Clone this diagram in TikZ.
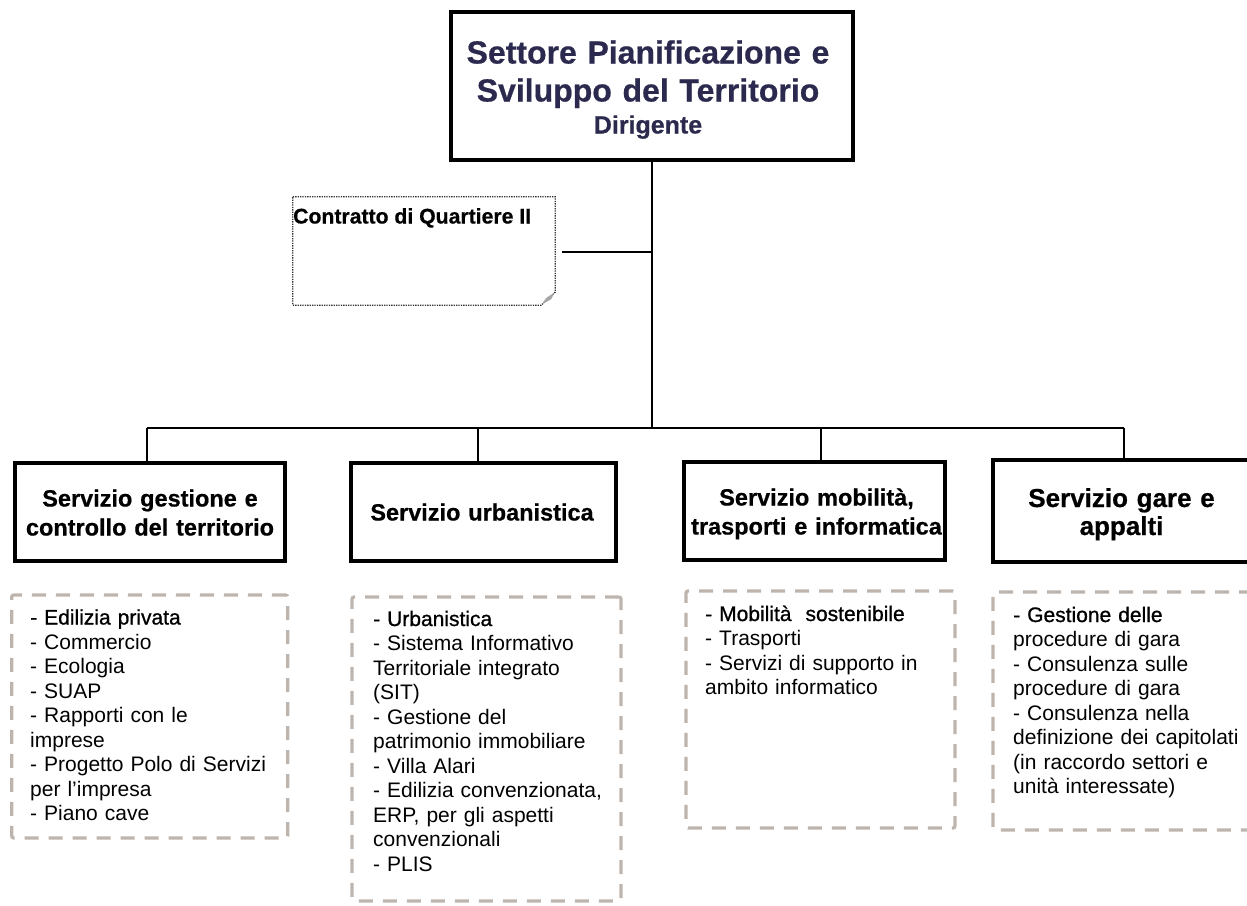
\documentclass[tikz,border=0pt]{standalone}
\usepackage{fontspec}
\setmainfont{Liberation Sans}[BoldFeatures={FakeBold=0.6}]
\newfontfamily\firstline{Liberation Sans}[FakeBold=0.9]
\definecolor{navy}{HTML}{2B2A4E}
\definecolor{dashgray}{HTML}{BDB5AD}
\definecolor{dotgray}{HTML}{333333}
\begin{document}
\begin{tikzpicture}[x=1pt,y=-1pt,
  boxframe/.style={draw=black, line width=4.5pt, inner sep=0pt},
  toptext/.style={anchor=base, text width=400pt, align=center, inner sep=0pt, text=navy,
    font=\bfseries\fontsize{32}{38}\selectfont},
  svctext/.style={anchor=base, text width=260pt, align=center, inner sep=0pt,
    font=\bfseries\fontsize{23.5}{29}\selectfont},
  conn/.style={draw=black, line width=2pt},
  dbox/.style={draw=dashgray, line width=3.2pt, dash pattern=on 14pt off 10pt, rounded corners=2pt, inner sep=0pt},
  dtext/.style={anchor=base west, text width=265pt, align=left, inner sep=0pt,
    font=\fontsize{21}{24.5}\selectfont},
  dotbox/.style={draw=dotgray, line width=1.3pt, dash pattern=on 1.3pt off 1.1pt},
]
\useasboundingbox (0,0) rectangle (1247,905);

% top box
\node[boxframe, minimum width=402pt, minimum height=148pt] (top) at (652,86) {};
\node[toptext] (topt) at (648,63.5)
  {Settore Pianificazione e\\Sviluppo del Territorio\\[-6pt]{\fontsize{25}{30}\selectfont Dirigente}};

% Contratto di Quartiere II
\node[minimum width=262pt, minimum height=108pt, inner sep=0pt] (cq) at (424,251) {};
\draw[dotbox] (cq.north west) -- (cq.north east) -- ([yshift=13pt]cq.south east)
  -- ([xshift=-14pt]cq.south east) -- (cq.south west) -- cycle;
\fill[gray!70] ([xshift=-13pt,yshift=1pt]cq.south east) .. controls ([xshift=-9pt,yshift=8pt]cq.south east) .. ([xshift=-1pt,yshift=12pt]cq.south east)
  -- ([xshift=-4pt,yshift=6pt]cq.south east) .. controls ([xshift=-8pt,yshift=4pt]cq.south east) .. cycle;
\node[anchor=base west, inner sep=0pt, font=\bfseries\fontsize{21.2}{24}\selectfont] (cqt) at (293,223.5) {Contratto di Quartiere II};
\coordinate (cqe) at (562,252);
\draw[conn] (cqe) -- (cqe -| top.south);

% service boxes
\node[boxframe, minimum width=270pt, minimum height=98pt] (s1) at (150,512) {};
\node[boxframe, minimum width=265pt, minimum height=98pt] (s2) at (483.5,512) {};
\node[boxframe, minimum width=261pt, minimum height=98pt] (s3) at (814.5,511) {};
\node[boxframe, minimum width=257pt, minimum height=102pt] (s4) at (1121.5,511) {};
\node[svctext] (s1t) at (150,506.5) {Servizio gestione e\\controllo del territorio};
\node[svctext] (s2t) at (482,520.5) {Servizio urbanistica};
\node[svctext] (s3t) at (816.5,505.5) {Servizio mobilità,\\trasporti e informatica};
\node[svctext, font=\bfseries\fontsize{26}{28}\selectfont] (s4t) at (1121.5,507) {Servizio gare e\\appalti};

% connectors
\coordinate (bus) at (652,428);
\coordinate (d1) at (147,428);
\coordinate (d2) at (478,428);
\coordinate (d3) at (821,428);
\coordinate (d4) at (1124,428);
\draw[conn] (top.south) -- (bus);
\draw[conn] (d1) -- (d4);
\draw[conn] (d1) -- (d1 |- s1.north);
\draw[conn] (d2) -- (d2 |- s2.north);
\draw[conn] (d3) -- (d3 |- s3.north);
\draw[conn] (d4) -- (d4 |- s4.north);

% dashed boxes
\node[dbox, minimum width=276pt, minimum height=243pt] (l1) at (149.75,716.5) {};
\node[dbox, minimum width=269pt, minimum height=304pt] (l2) at (486.5,749) {};
\node[dbox, minimum width=269pt, minimum height=237pt] (l3) at (820.5,709.5) {};
\node[dbox, minimum width=262pt, minimum height=238pt] (l4) at (1124,711) {};

\node[dtext] (t1) at (30,624.5) {{\firstline - Edilizia privata}\\- Commercio\\- Ecologia\\- SUAP\\- Rapporti con le\\imprese\\- Progetto Polo di Servizi\\per l'impresa\\- Piano cave};
\node[dtext] (t2) at (373,626) {{\firstline - Urbanistica}\\- Sistema Informativo\\Territoriale integrato\\(SIT)\\- Gestione del\\patrimonio immobiliare\\- Villa Alari\\- Edilizia convenzionata,\\ERP, per gli aspetti\\convenzionali\\- PLIS};
\node[dtext] (t3) at (705,621) {{\firstline - Mobilità~ sostenibile}\\- Trasporti\\- Servizi di supporto in\\ambito informatico};
\node[dtext] (t4) at (1013,622) {{\firstline - Gestione delle}\\procedure di gara\\- Consulenza sulle\\procedure di gara\\- Consulenza nella\\definizione dei capitolati\\(in raccordo settori e\\unità interessate)};
\end{tikzpicture}
\end{document}
